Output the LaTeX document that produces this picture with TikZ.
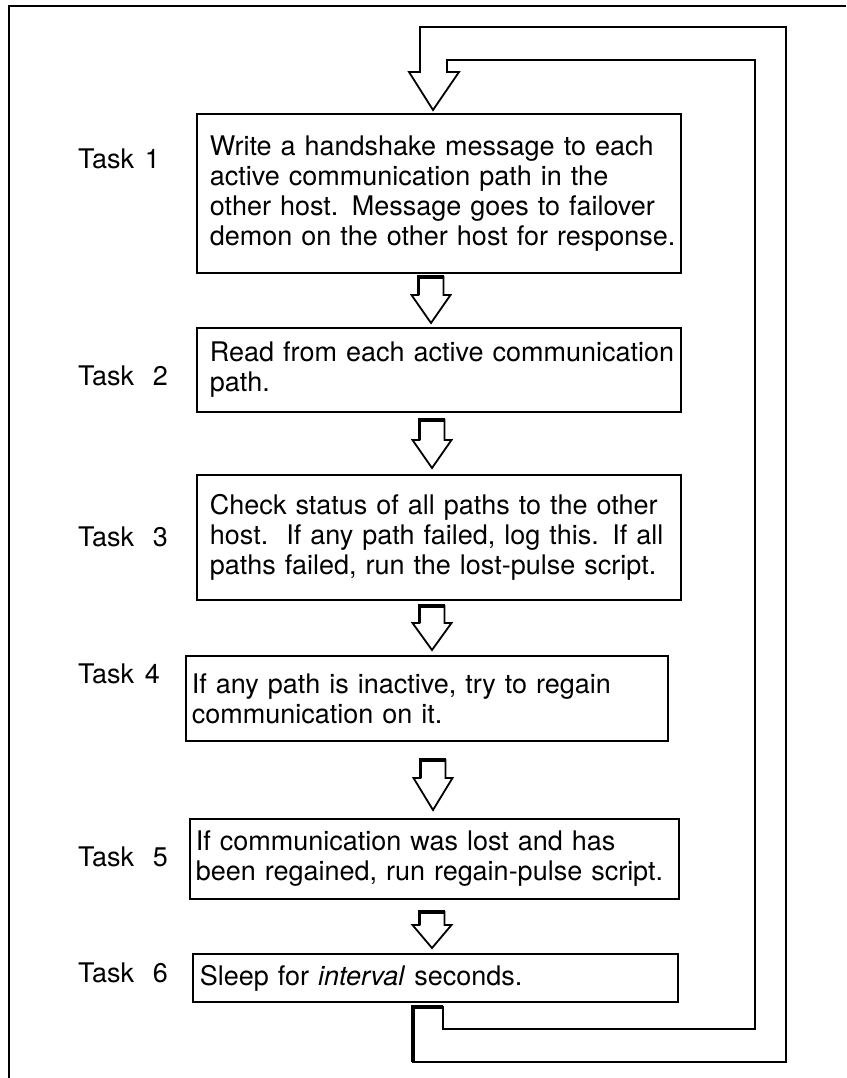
\documentclass[tikz,border=0pt]{standalone}
\usepackage{fontspec}
\setmainfont{TeX Gyre Heros}
\newcommand\flowarrow[4]{% centre x, shaft top, head base, tip
  \draw[arrowline] ({#1-12.5},#2) -- ({#1+12.5},#2) -- ({#1+12.5},#3) -- ({#1+19.5},#3)
    -- (#1,#4) -- ({#1-19.5},#3) -- ({#1-12.5},#3) -- cycle;
  \draw[arrowshade] ({#1-12.5},#3) -- ({#1-12.5},#2) -- ({#1+12.5},#2);
}
% one unbroken line of box text
\newcommand\boxline[1]{\mbox{#1}}
\begin{document}
\begin{tikzpicture}[x=1pt,y=-1pt,line join=miter,
  txt/.style={font=\fontsize{27}{30}\selectfont},
  box/.style={txt,draw,line width=1.8pt,anchor=north west,inner xsep=13pt,inner ysep=0pt,align=left},
  lbl/.style={txt,anchor=west,inner sep=0pt},
  arrowline/.style={line width=1.8pt},
  arrowshade/.style={line width=3.6pt,line cap=butt},
  frame/.style={line width=2.4pt}]
\useasboundingbox (0,0) rectangle (846,1078);

% page frame
\draw[frame] (9,1078) -- (9,6) -- (846,6);

% task boxes
\node[box,minimum width=484pt,minimum height=159pt,text width=458pt] (b1) at (196,113)
  {\boxline{Write a handshake message to each}\\\boxline{active communication path in the}\\
   \boxline{other host. Message goes to failover}\\\boxline{demon on the other host for response.}};
\node[box,minimum width=484pt,minimum height=84pt,text width=458pt] (b2) at (196,327)
  {\boxline{Read from each active communication}\\\boxline{path.}};
\node[box,minimum width=484pt,minimum height=125pt,text width=458pt] (b3) at (196,474)
  {\boxline{Check status of all paths to the other}\\\boxline{host.\ \ If any path failed, log this. If all}\\
   \boxline{paths failed, run the lost-pulse script.}};
\node[box,minimum width=482pt,minimum height=85pt,text width=470pt,inner xsep=6pt] (b4) at (185,655)
  {\boxline{If any path is inactive, try to regain}\\\boxline{communication on it.}};
\node[box,minimum width=489pt,minimum height=80pt,text width=477pt,inner xsep=6pt] (b5) at (189,818)
  {\boxline{If communication was lost and has}\\\boxline{been regained, run regain-pulse script.}};
\node[box,minimum width=485pt,minimum height=48pt,text width=471pt,inner xsep=7pt] (b6) at (192,953)
  {\boxline{Sleep for \textit{interval} seconds.}};

% task labels
\node[lbl] (t1) at (78,159) {Task\hspace{11pt}1};
\node[lbl] (t2) at (78,376) {Task\hspace{19pt}2};
\node[lbl] (t3) at (78,537) {Task\hspace{19pt}3};
\node[lbl] (t4) at (78,674) {Task\hspace{11pt}4};
\node[lbl] (t5) at (78,857) {Task\hspace{19pt}5};
\node[lbl] (t6) at (78,973) {Task\hspace{19pt}6};

% block arrows between the tasks
\flowarrow{431}{277}{295}{323}
\flowarrow{432}{420}{440}{468}
\flowarrow{432}{606}{623}{650}
\flowarrow{433}{760}{778}{810}
\flowarrow{432}{912}{925}{948}

% return channel from task 6 back to task 1
\draw[arrowline] (409,72) -- (420,72) -- (420,27) -- (786,27) -- (786,1062)
  -- (413,1062) -- (413,1007) -- (443,1007) -- (443,1029) -- (755,1029)
  -- (755,60) -- (447,60) -- (447,72) -- (459,72) -- (433,110) -- cycle;
\draw[arrowshade] (413,1062) -- (413,1007) -- (443,1007);
\end{tikzpicture}
\end{document}
